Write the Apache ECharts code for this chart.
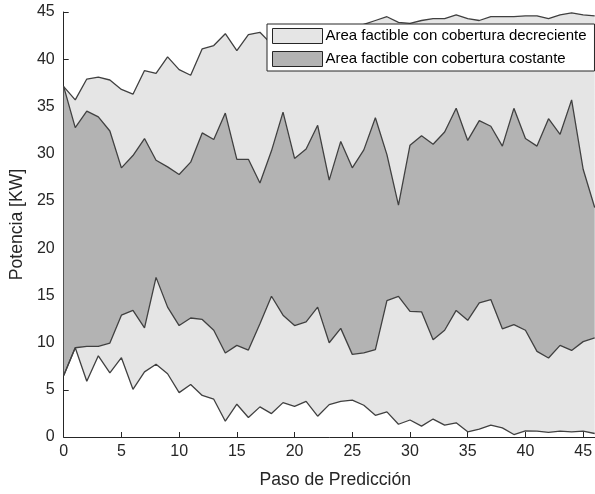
<!DOCTYPE html>
<html>
<head>
<meta charset="utf-8">
<script src="https://cdn.jsdelivr.net/npm/echarts@6/dist/echarts.min.js"></script>
<style>
  html, body { margin: 0; padding: 0; background: #fff; }
  #chart { width: 595px; height: 494px; }
</style>
</head>
<body>
<div id="chart"></div>
<script>
// Prediction steps 0..46
const steps = Array.from({ length: 47 }, (_, i) => String(i));

// Feasible band with decreasing coverage (outer bounds)
const upperOuter = [37.1, 35.7, 37.9, 38.1, 37.8, 36.8, 36.3, 38.8, 38.5, 40.25,
  38.9, 38.3, 41.1, 41.45, 42.7, 40.9, 42.6, 42.85, 41.6, 42.0,
  42.5, 42.3, 43.0, 42.6, 43.0, 43.3, 43.7, 44.1, 44.5, 43.9,
  43.8, 44.1, 44.3, 44.3, 44.7, 44.3, 44.1, 44.5, 44.5, 44.5,
  44.6, 44.6, 44.3, 44.7, 44.9, 44.7, 44.6];
const lowerOuter = [6.5, 9.45, 5.9, 8.6, 6.8, 8.4, 5.05, 6.9, 7.7, 6.7,
  4.7, 5.55, 4.4, 4.0, 1.67, 3.47, 2.06, 3.19, 2.48, 3.64,
  3.25, 3.78, 2.2, 3.43, 3.78, 3.9, 3.36, 2.3, 2.66, 1.35,
  1.8, 1.15, 1.9, 1.25, 1.5, 0.55, 0.83, 1.25, 0.97, 0.26,
  0.65, 0.62, 0.48, 0.62, 0.55, 0.62, 0.37];

// Feasible band with constant coverage (inner bounds)
const upperInner = [37.1, 32.75, 34.5, 33.9, 32.4, 28.5, 29.8, 31.6, 29.3, 28.6,
  27.8, 29.1, 32.2, 31.5, 34.3, 29.4, 29.4, 26.9, 30.3, 34.4,
  29.5, 30.5, 33.0, 27.2, 31.3, 28.5, 30.4, 33.8, 29.9, 24.55,
  30.9, 31.9, 31.0, 32.3, 34.8, 31.4, 33.5, 32.9, 30.8, 34.8,
  31.6, 30.8, 33.7, 32.05, 35.7, 28.35, 24.3];
const lowerInner = [6.5, 9.45, 9.6, 9.6, 9.95, 12.9, 13.4, 11.55, 16.9, 13.75,
  11.8, 12.6, 12.45, 11.3, 8.9, 9.7, 9.2, 12.0, 14.9, 12.9,
  11.8, 12.2, 13.75, 9.98, 11.5, 8.75, 8.9, 9.25, 14.45, 14.9,
  13.3, 13.25, 10.3, 11.3, 13.4, 12.35, 14.2, 14.55, 11.45, 11.9,
  11.3, 9.06, 8.36, 9.7, 9.17, 10.1, 10.5];

const xTickStep = 5;
const yTicks = [0, 5, 10, 15, 20, 25, 30, 35, 40, 45];

const NAME_DEC = 'Area factible con cobertura decreciente';
const NAME_CONST = 'Area factible con cobertura costante';

const LIGHT = '#e5e5e5';
const DARK = '#b3b3b3';
const EDGE = '#404040';
const AXIS = '#262626';
const FONT = '"Liberation Sans", Arial, Helvetica, sans-serif';

// Stacked layers: each layer holds the thickness above the previous bound
const round = (v) => Math.round(v * 1000) / 1000;
const layerBase = lowerOuter.slice();
const layerLow = lowerInner.map((v, i) => round(v - lowerOuter[i]));
const layerMid = upperInner.map((v, i) => round(v - lowerInner[i]));
const layerTop = upperOuter.map((v, i) => round(v - upperInner[i]));

function band(name, data, fill) {
  const s = {
    name: name,
    type: 'line',
    stack: 'potencia',
    data: data,
    showSymbol: false,
    symbol: 'none',
    silent: true,
    lineStyle: { color: EDGE, width: 1.3 },
    z: 2
  };
  if (fill) {
    s.itemStyle = { color: fill };
    s.areaStyle = { color: fill, opacity: 1 };
  } else {
    s.itemStyle = { color: EDGE };
  }
  return s;
}

const onTickStep = (index) => index % xTickStep === 0;

const chart = echarts.init(document.getElementById('chart'), null, { renderer: 'canvas' });

chart.setOption({
  animation: false,
  backgroundColor: '#ffffff',
  textStyle: { fontFamily: FONT },
  grid: { left: 61, right: 0, top: 12, bottom: 56, containLabel: false },
  legend: {
    orient: 'vertical',
    left: 267,
    top: 24,
    padding: [4, 8, 4, 5],
    itemGap: 7,
    itemWidth: 50,
    itemHeight: 15,
    icon: 'rect',
    backgroundColor: '#ffffff',
    borderColor: AXIS,
    borderWidth: 1,
    borderRadius: 0,
    textStyle: { fontFamily: FONT, fontSize: 15, color: '#000000', padding: [0, 0, 0, -2] },
    data: [
      { name: NAME_DEC, itemStyle: { color: LIGHT, borderColor: AXIS, borderWidth: 1 } },
      { name: NAME_CONST, itemStyle: { color: DARK, borderColor: AXIS, borderWidth: 1 } }
    ],
    selectedMode: false,
    z: 10
  },
  xAxis: {
    type: 'category',
    data: steps,
    boundaryGap: false,
    name: 'Paso de Predicción',
    nameLocation: 'middle',
    nameGap: 34,
    nameTextStyle: { fontFamily: FONT, fontSize: 17.6, color: AXIS, padding: [0, 0, 0, 12] },
    axisLine: { show: true, onZero: false, lineStyle: { color: AXIS, width: 1 } },
    axisTick: { show: true, inside: true, length: 5, interval: onTickStep, lineStyle: { color: AXIS } },
    axisLabel: {
      fontFamily: FONT, fontSize: 16, color: AXIS, margin: 7,
      interval: onTickStep
    },
    splitLine: { show: false }
  },
  yAxis: {
    type: 'value',
    min: 0,
    max: 45,
    interval: 5,
    name: 'Potencia [KW]',
    nameLocation: 'middle',
    nameGap: 30,
    nameTextStyle: { fontFamily: FONT, fontSize: 17.6, color: AXIS },
    axisLine: { show: true, lineStyle: { color: AXIS, width: 1 } },
    axisTick: { show: true, inside: true, length: 5, lineStyle: { color: AXIS } },
    axisLabel: {
      fontFamily: FONT, fontSize: 16, color: AXIS, margin: 9,
      formatter: (v) => (yTicks.includes(v) ? String(v) : '')
    },
    splitLine: { show: false }
  },
  series: [
    band('lowerOuter', layerBase, null),
    band(NAME_DEC, layerLow, LIGHT),
    band(NAME_CONST, layerMid, DARK),
    band(NAME_DEC, layerTop, LIGHT)
  ]
});
</script>
</body>
</html>
